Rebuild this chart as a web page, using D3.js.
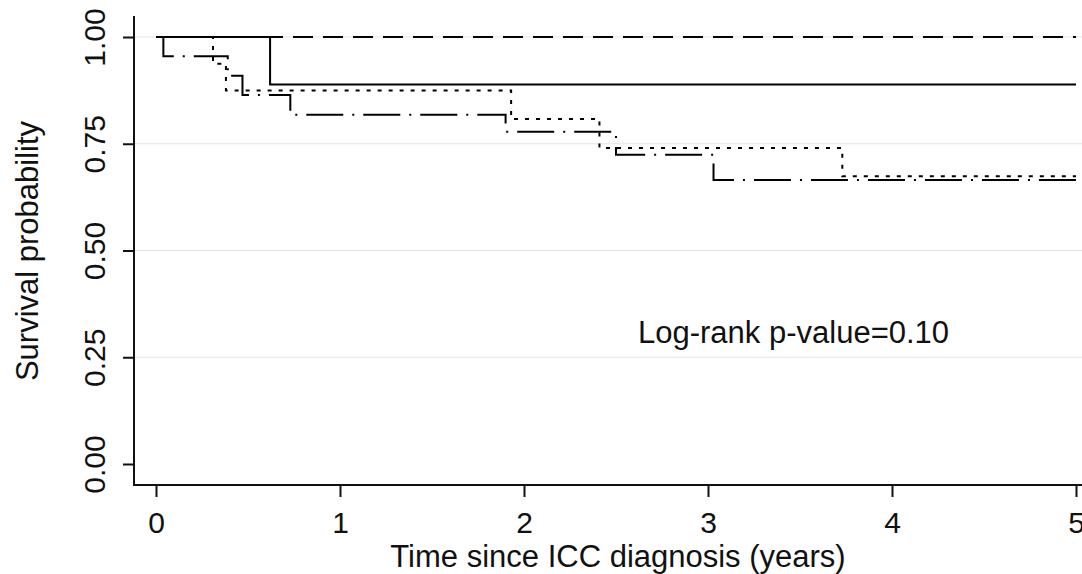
<!DOCTYPE html>
<html>
<head>
<meta charset="utf-8">
<script src="https://cdn.jsdelivr.net/npm/d3@7"></script>
<style>
  html, body { margin: 0; padding: 0; background: #fff; }
  svg { display: block; font-family: 'Liberation Sans', Arial, sans-serif; }
</style>
</head>
<body>
<svg id="chart" width="1082" height="574"></svg>
<script>
'use strict'

// tick values
const timeTicks = [0, 1, 2, 3, 4, 5]
const survTicks = [0, 0.25, 0.5, 0.75, 1]

// Kaplan-Meier step points per group (time in years, survival)
const groupNames = ['Group 1', 'Group 2', 'Group 3', 'Group 4']
const group1Times = [0, 5]
const group1Surv = [1, 1]
const group2Times = [0, 0.62, 5]
const group2Surv = [1, 0.889, 0.889]
const group3Times = [0, 0.31, 0.38, 1.93, 2.41, 3.73, 5]
const group3Surv = [1, 0.9375, 0.875, 0.808, 0.74, 0.674, 0.674]
const group4Times = [0, 0.04, 0.39, 0.47, 0.73, 1.90, 2.50, 3.03, 5]
const group4Surv = [1, 0.955, 0.909, 0.864, 0.818, 0.778, 0.724, 0.665, 0.665]

const pValueText = 'Log-rank p-value=0.10'

const width = 1082
const axisX = 134
const axisY = 485
const tickFont = 30
const titleFont = 31
const ink = '#111'

const series = [
  {name: groupNames[0], times: group1Times, surv: group1Surv, dash: '20,10', offset: 13},
  {name: groupNames[1], times: group2Times, surv: group2Surv, dash: null, offset: 0},
  {name: groupNames[2], times: group3Times, surv: group3Surv, dash: '4,7', offset: 0},
  {name: groupNames[3], times: group4Times, surv: group4Surv, dash: '37,9,2,9', offset: 0}
]

const svg = d3.select('#chart')

const x = d3.scaleLinear()
  .domain([0, 5])
  .range([156, 1076])

const y = d3.scaleLinear()
  .domain([0, 1])
  .range([464, 37])

// grid lines
svg.append('g')
  .selectAll('line')
  .data(survTicks.filter(d => d > 0))
  .join('line')
    .attr('x1', axisX)
    .attr('x2', width)
    .attr('y1', d => y(d))
    .attr('y2', d => y(d))
    .attr('stroke', '#e3e3e3')
    .attr('stroke-width', 1)

// curves
const line = d3.line()
  .x(d => x(d[0]))
  .y(d => y(d[1]))
  .curve(d3.curveStepAfter)

svg.append('g')
  .selectAll('path')
  .data(series)
  .join('path')
    .attr('d', s => line(s.times.map((t, i) => [t, s.surv[i]])))
    .attr('fill', 'none')
    .attr('stroke', '#000')
    .attr('stroke-width', 2)
    .attr('stroke-dasharray', s => s.dash)
    .attr('stroke-dashoffset', s => s.offset)

// axes
const xAxis = d3.axisBottom(x)
  .tickValues(timeTicks)
  .tickFormat(d3.format('d'))
  .tickSize(12)
  .tickSizeOuter(0)

const xAxisGroup = svg.append('g')
  .attr('transform', `translate(0,${axisY})`)
  .call(xAxis)
xAxisGroup.select('.domain').remove()
xAxisGroup.selectAll('line').attr('stroke', ink).attr('stroke-width', 2)
xAxisGroup.selectAll('text')
  .attr('y', 48)
  .attr('dy', 0)
  .attr('fill', ink)
  .attr('font-size', tickFont)
  .attr('font-family', null)

const yAxis = d3.axisLeft(y)
  .tickValues(survTicks)
  .tickFormat(d3.format('.2f'))
  .tickSize(11)
  .tickSizeOuter(0)

const yAxisGroup = svg.append('g')
  .attr('transform', `translate(${axisX},0)`)
  .call(yAxis)
yAxisGroup.select('.domain').remove()
yAxisGroup.selectAll('line').attr('stroke', ink).attr('stroke-width', 2)
yAxisGroup.selectAll('text')
  .attr('x', null)
  .attr('dy', 0)
  .attr('transform', 'translate(-29,0) rotate(-90)')
  .attr('text-anchor', 'middle')
  .attr('fill', ink)
  .attr('font-size', tickFont)
  .attr('font-family', null)

// axis lines
svg.append('path')
  .attr('d', `M${axisX},16V${axisY}H${width}`)
  .attr('fill', 'none')
  .attr('stroke', ink)
  .attr('stroke-width', 2)

// titles
svg.append('text')
  .attr('x', 618)
  .attr('y', 567)
  .attr('text-anchor', 'middle')
  .attr('font-size', titleFont)
  .attr('fill', ink)
  .text('Time since ICC diagnosis (years)')

svg.append('text')
  .attr('transform', 'translate(38,251) rotate(-90)')
  .attr('text-anchor', 'middle')
  .attr('font-size', titleFont)
  .attr('fill', ink)
  .text('Survival probability')

svg.append('text')
  .attr('x', 638)
  .attr('y', 343)
  .attr('font-size', titleFont)
  .attr('fill', ink)
  .text(pValueText)
</script>
</body>
</html>
